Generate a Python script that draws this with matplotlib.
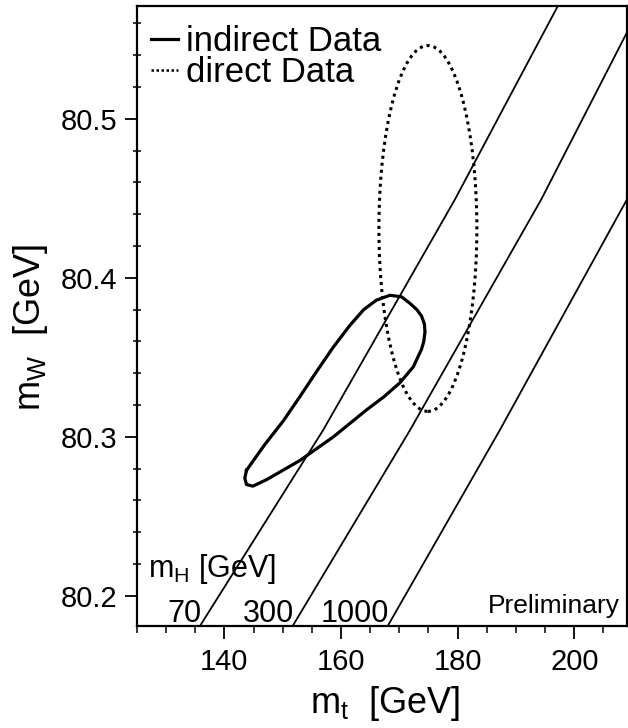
import matplotlib
matplotlib.use("Agg")
import matplotlib.pyplot as plt
from matplotlib.patches import Ellipse
from matplotlib.ticker import MultipleLocator

plt.rcParams['font.family'] = ['Liberation Sans', 'DejaVu Sans']
plt.rcParams['mathtext.fontset'] = 'custom'
plt.rcParams['mathtext.rm'] = 'Liberation Sans'
plt.rcParams['mathtext.it'] = 'Liberation Sans'
plt.rcParams['mathtext.default'] = 'regular'

# SM bands for fixed Higgs mass (m_t, m_W)
higgs_labels = ['70', '300', '1000']
higgs_mt = [
    [135.8, 156.9, 179.5, 197.2],
    [151.7, 171.8, 194.3, 209.0],
    [168.0, 187.2, 209.0],
]
higgs_mw = [
    [80.181, 80.304, 80.449, 80.571],
    [80.181, 80.304, 80.449, 80.554],
    [80.181, 80.304, 80.449],
]

# indirect contour (closed)
indirect_mt = [143.8, 146.9, 150.1, 152.9, 155.8, 158.6, 161.5, 163.9, 166.1, 168.4,
               170.4, 171.8, 173.0, 173.8, 174.3, 174.4, 174.2, 173.8, 172.4, 170.1,
               167.3, 164.4, 158.7, 152.9, 147.2, 144.9, 143.8, 143.5, 143.8]
indirect_mw = [80.279, 80.295, 80.310, 80.325, 80.341, 80.356, 80.370, 80.380, 80.386, 80.389,
               80.388, 80.384, 80.380, 80.376, 80.371, 80.366, 80.360, 80.355, 80.344, 80.334,
               80.325, 80.317, 80.300, 80.285, 80.273, 80.269, 80.270, 80.274, 80.279]

# direct measurement ellipse: centre and half-axes
direct_mt, direct_mw = 174.9, 80.431
direct_dmt, direct_dmw = 8.4, 0.115

fig = plt.figure(figsize=(6.28, 7.28), dpi=100)
ax = fig.add_axes([0.218, 0.140, 0.780, 0.852])

for mt, mw in zip(higgs_mt, higgs_mw):
    ax.plot(mt, mw, color='black', lw=1.3)

ax.plot(indirect_mt, indirect_mw, color='black', lw=2.3, label='indirect Data',
        solid_joinstyle='round')
ell = Ellipse((direct_mt, direct_mw), 2 * direct_dmt, 2 * direct_dmw,
              fill=False, edgecolor='black', lw=2.2, linestyle=(0, (1, 1.3)))
ax.add_patch(ell)
ax.plot([], [], color='black', lw=1.8, linestyle=(0, (1, 1.0)), label='direct Data')

ax.set_xlim(125, 209)
ax.set_ylim(80.181, 80.571)

ax.xaxis.set_major_locator(MultipleLocator(20))
ax.xaxis.set_minor_locator(MultipleLocator(5))
ax.yaxis.set_major_locator(MultipleLocator(0.1))
ax.yaxis.set_minor_locator(MultipleLocator(0.02))
ax.tick_params(which='major', direction='out', length=9, width=1.3, labelsize=21)
ax.tick_params(axis='x', which='major', pad=7)
ax.tick_params(axis='y', which='major', pad=5)
ax.tick_params(axis='x', which='minor', direction='out', length=5, width=1.1)
ax.tick_params(axis='y', which='minor', direction='inout', length=6, width=1.1)
for side in ax.spines:
    ax.spines[side].set_linewidth(1.6)

ax.set_xlabel('$m_t$  [GeV]', fontsize=26)
ax.set_ylabel('$m_W$  [GeV]', fontsize=26)
ax.xaxis.set_label_coords(0.506, -0.093)
ax.yaxis.set_label_coords(-0.178, 0.482)

# Higgs mass labels at the bottom of each band line
for lab, mt in zip(higgs_labels, higgs_mt):
    ax.text(mt[0] + 0.3, 80.1835, lab, fontsize=22, ha='right', va='baseline')
ax.text(0.0225, 0.079, '$m_H$ [GeV]', fontsize=22, transform=ax.transAxes,
        ha='left', va='baseline')
ax.text(0.986, 0.021, 'Preliminary', fontsize=19, transform=ax.transAxes,
        ha='right', va='baseline')

ax.legend(loc='upper left', bbox_to_anchor=(0.014, 0.98), frameon=False,
          fontsize=25, handlelength=0.8, handletextpad=0.22, labelspacing=-0.07,
          borderaxespad=0.0, borderpad=0.2)

fig.savefig('out.png', dpi=100)
